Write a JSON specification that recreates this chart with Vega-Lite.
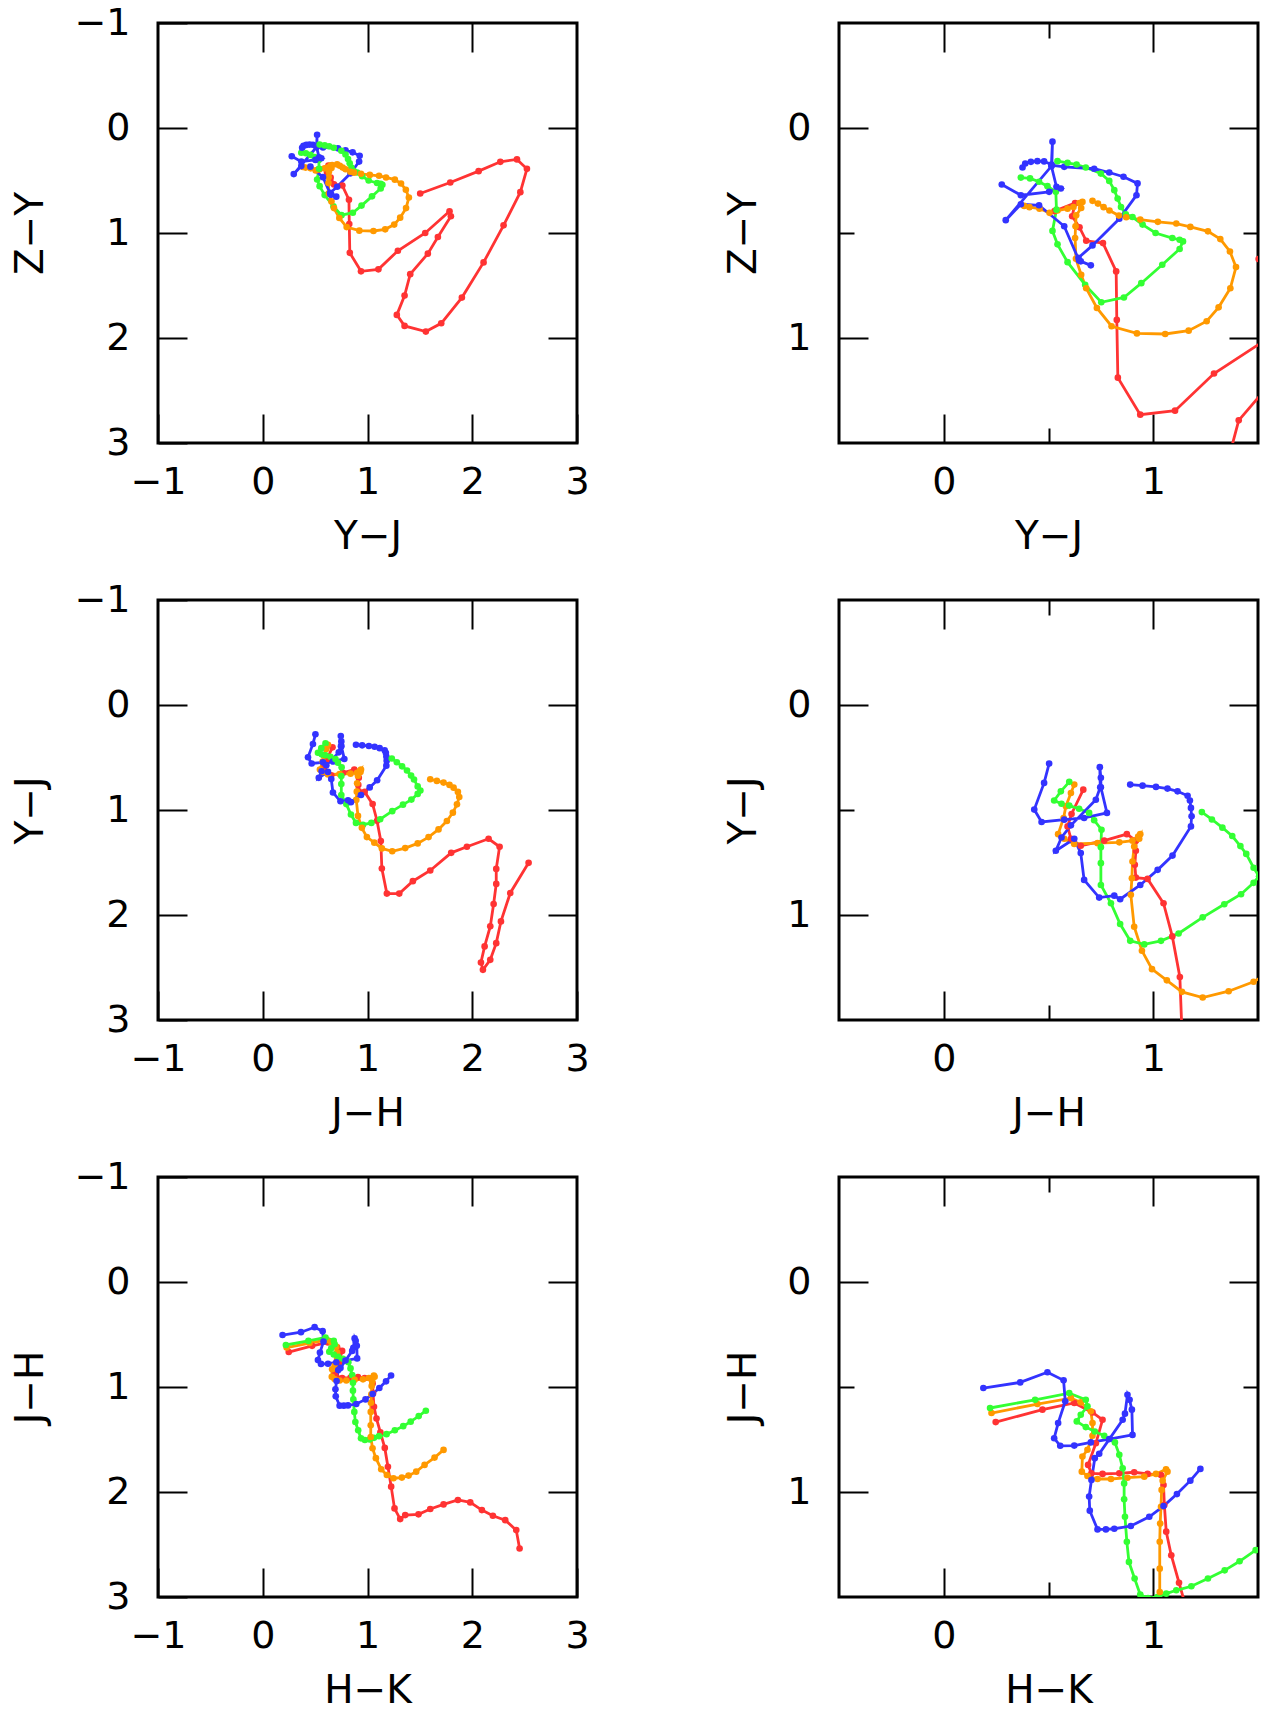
{
"$schema":"https://vega.github.io/schema/vega-lite/v6.json",
"padding":{"left":10,"top":2,"right":5,"bottom":0},
"datasets":{"d":[
{"r":1,"s":"r","i":1,"x":0.529,"y":0.396},{"r":1,"s":"r","i":2,"x":0.627,"y":0.357},{"r":1,"s":"r","i":3,"x":0.613,"y":0.420},{"r":1,"s":"r","i":4,"x":0.648,"y":0.473},{"r":1,"s":"r","i":5,"x":0.680,"y":0.537},{"r":1,"s":"r","i":6,"x":0.760,"y":0.548},{"r":1,"s":"r","i":7,"x":0.823,"y":0.683},{"r":1,"s":"r","i":8,"x":0.826,"y":0.914},{"r":1,"s":"r","i":9,"x":0.831,"y":1.189},{"r":1,"s":"r","i":10,"x":0.938,"y":1.365},{"r":1,"s":"r","i":11,"x":1.104,"y":1.346},{"r":1,"s":"r","i":12,"x":1.290,"y":1.169},{"r":1,"s":"r","i":13,"x":1.551,"y":1.000},{"r":1,"s":"r","i":14,"x":1.783,"y":0.793},{"r":1,"s":"r","i":15,"x":1.796,"y":0.841},{"r":1,"s":"r","i":16,"x":1.672,"y":1.038},{"r":1,"s":"r","i":17,"x":1.576,"y":1.197},{"r":1,"s":"r","i":18,"x":1.408,"y":1.392},{"r":1,"s":"r","i":19,"x":1.354,"y":1.596},{"r":1,"s":"r","i":20,"x":1.280,"y":1.780},{"r":1,"s":"r","i":21,"x":1.354,"y":1.885},{"r":1,"s":"r","i":22,"x":1.557,"y":1.939},{"r":1,"s":"r","i":23,"x":1.704,"y":1.860},{"r":1,"s":"r","i":24,"x":1.901,"y":1.615},{"r":1,"s":"r","i":25,"x":2.108,"y":1.280},{"r":1,"s":"r","i":26,"x":2.299,"y":0.927},{"r":1,"s":"r","i":27,"x":2.459,"y":0.611},{"r":1,"s":"r","i":28,"x":2.522,"y":0.389},{"r":1,"s":"r","i":29,"x":2.427,"y":0.299},{"r":1,"s":"r","i":30,"x":2.268,"y":0.322},{"r":1,"s":"r","i":31,"x":2.061,"y":0.411},{"r":1,"s":"r","i":32,"x":1.790,"y":0.519},{"r":1,"s":"r","i":33,"x":1.503,"y":0.624},
{"r":1,"s":"o","i":1,"x":0.384,"y":0.371},{"r":1,"s":"o","i":2,"x":0.409,"y":0.377},{"r":1,"s":"o","i":3,"x":0.457,"y":0.384},{"r":1,"s":"o","i":4,"x":0.505,"y":0.404},{"r":1,"s":"o","i":5,"x":0.543,"y":0.393},{"r":1,"s":"o","i":6,"x":0.591,"y":0.384},{"r":1,"s":"o","i":7,"x":0.619,"y":0.376},{"r":1,"s":"o","i":8,"x":0.648,"y":0.357},{"r":1,"s":"o","i":9,"x":0.662,"y":0.352},{"r":1,"s":"o","i":10,"x":0.656,"y":0.381},{"r":1,"s":"o","i":11,"x":0.632,"y":0.416},{"r":1,"s":"o","i":12,"x":0.629,"y":0.468},{"r":1,"s":"o","i":13,"x":0.627,"y":0.524},{"r":1,"s":"o","i":14,"x":0.631,"y":0.623},{"r":1,"s":"o","i":15,"x":0.656,"y":0.699},{"r":1,"s":"o","i":16,"x":0.680,"y":0.763},{"r":1,"s":"o","i":17,"x":0.731,"y":0.857},{"r":1,"s":"o","i":18,"x":0.801,"y":0.944},{"r":1,"s":"o","i":19,"x":0.922,"y":0.978},{"r":1,"s":"o","i":20,"x":1.057,"y":0.981},{"r":1,"s":"o","i":21,"x":1.169,"y":0.965},{"r":1,"s":"o","i":22,"x":1.255,"y":0.920},{"r":1,"s":"o","i":23,"x":1.312,"y":0.854},{"r":1,"s":"o","i":24,"x":1.368,"y":0.763},{"r":1,"s":"o","i":25,"x":1.395,"y":0.662},{"r":1,"s":"o","i":26,"x":1.366,"y":0.588},{"r":1,"s":"o","i":27,"x":1.320,"y":0.529},{"r":1,"s":"o","i":28,"x":1.261,"y":0.492},{"r":1,"s":"o","i":29,"x":1.177,"y":0.471},{"r":1,"s":"o","i":30,"x":1.110,"y":0.455},{"r":1,"s":"o","i":31,"x":1.022,"y":0.447},{"r":1,"s":"o","i":32,"x":0.938,"y":0.436},{"r":1,"s":"o","i":33,"x":0.871,"y":0.425},{"r":1,"s":"o","i":34,"x":0.836,"y":0.417},{"r":1,"s":"o","i":35,"x":0.791,"y":0.393},{"r":1,"s":"o","i":36,"x":0.763,"y":0.377},{"r":1,"s":"o","i":37,"x":0.736,"y":0.360},{"r":1,"s":"o","i":38,"x":0.710,"y":0.347},
{"r":1,"s":"g","i":1,"x":0.368,"y":0.236},{"r":1,"s":"g","i":2,"x":0.412,"y":0.240},{"r":1,"s":"g","i":3,"x":0.455,"y":0.256},{"r":1,"s":"g","i":4,"x":0.495,"y":0.277},{"r":1,"s":"g","i":5,"x":0.535,"y":0.304},{"r":1,"s":"g","i":6,"x":0.538,"y":0.389},{"r":1,"s":"g","i":7,"x":0.519,"y":0.490},{"r":1,"s":"g","i":8,"x":0.543,"y":0.554},{"r":1,"s":"g","i":9,"x":0.591,"y":0.639},{"r":1,"s":"g","i":10,"x":0.675,"y":0.747},{"r":1,"s":"g","i":11,"x":0.752,"y":0.830},{"r":1,"s":"g","i":12,"x":0.860,"y":0.807},{"r":1,"s":"g","i":13,"x":0.943,"y":0.739},{"r":1,"s":"g","i":14,"x":1.043,"y":0.651},{"r":1,"s":"g","i":15,"x":1.126,"y":0.576},{"r":1,"s":"g","i":16,"x":1.142,"y":0.540},{"r":1,"s":"g","i":17,"x":1.126,"y":0.532},{"r":1,"s":"g","i":18,"x":1.091,"y":0.524},{"r":1,"s":"g","i":19,"x":1.011,"y":0.500},{"r":1,"s":"g","i":20,"x":0.949,"y":0.460},{"r":1,"s":"g","i":21,"x":0.901,"y":0.424},{"r":1,"s":"g","i":22,"x":0.869,"y":0.411},{"r":1,"s":"g","i":23,"x":0.846,"y":0.376},{"r":1,"s":"g","i":24,"x":0.830,"y":0.336},{"r":1,"s":"g","i":25,"x":0.814,"y":0.296},{"r":1,"s":"g","i":26,"x":0.790,"y":0.252},{"r":1,"s":"g","i":27,"x":0.750,"y":0.217},{"r":1,"s":"g","i":28,"x":0.678,"y":0.188},{"r":1,"s":"g","i":29,"x":0.634,"y":0.174},{"r":1,"s":"g","i":30,"x":0.591,"y":0.166},{"r":1,"s":"g","i":31,"x":0.543,"y":0.158},
{"r":1,"s":"b","i":1,"x":0.376,"y":0.188},{"r":1,"s":"b","i":2,"x":0.389,"y":0.169},{"r":1,"s":"b","i":3,"x":0.416,"y":0.161},{"r":1,"s":"b","i":4,"x":0.447,"y":0.158},{"r":1,"s":"b","i":5,"x":0.479,"y":0.159},{"r":1,"s":"b","i":6,"x":0.514,"y":0.174},{"r":1,"s":"b","i":7,"x":0.519,"y":0.065},{"r":1,"s":"b","i":8,"x":0.516,"y":0.177},{"r":1,"s":"b","i":9,"x":0.575,"y":0.185},{"r":1,"s":"b","i":10,"x":0.718,"y":0.194},{"r":1,"s":"b","i":11,"x":0.790,"y":0.212},{"r":1,"s":"b","i":12,"x":0.858,"y":0.232},{"r":1,"s":"b","i":13,"x":0.925,"y":0.264},{"r":1,"s":"b","i":14,"x":0.920,"y":0.320},{"r":1,"s":"b","i":15,"x":0.838,"y":0.432},{"r":1,"s":"b","i":16,"x":0.710,"y":0.559},{"r":1,"s":"b","i":17,"x":0.643,"y":0.618},{"r":1,"s":"b","i":18,"x":0.654,"y":0.635},{"r":1,"s":"b","i":19,"x":0.702,"y":0.654},{"r":1,"s":"b","i":20,"x":0.646,"y":0.631},{"r":1,"s":"b","i":21,"x":0.575,"y":0.468},{"r":1,"s":"b","i":22,"x":0.455,"y":0.368},{"r":1,"s":"b","i":23,"x":0.368,"y":0.363},{"r":1,"s":"b","i":24,"x":0.296,"y":0.439},{"r":1,"s":"b","i":25,"x":0.514,"y":0.182},{"r":1,"s":"b","i":26,"x":0.538,"y":0.280},{"r":1,"s":"b","i":27,"x":0.559,"y":0.288},{"r":1,"s":"b","i":28,"x":0.503,"y":0.304},{"r":1,"s":"b","i":29,"x":0.368,"y":0.320},{"r":1,"s":"b","i":30,"x":0.277,"y":0.269},
{"r":2,"s":"r","i":1,"x":0.666,"y":0.403},{"r":2,"s":"r","i":2,"x":0.610,"y":0.519},{"r":2,"s":"r","i":3,"x":0.591,"y":0.578},{"r":2,"s":"r","i":4,"x":0.607,"y":0.637},{"r":2,"s":"r","i":5,"x":0.654,"y":0.670},{"r":2,"s":"r","i":6,"x":0.766,"y":0.646},{"r":2,"s":"r","i":7,"x":0.874,"y":0.615},{"r":2,"s":"r","i":8,"x":0.917,"y":0.646},{"r":2,"s":"r","i":9,"x":0.917,"y":0.694},{"r":2,"s":"r","i":10,"x":0.912,"y":0.761},{"r":2,"s":"r","i":11,"x":0.917,"y":0.822},{"r":2,"s":"r","i":12,"x":0.973,"y":0.828},{"r":2,"s":"r","i":13,"x":1.049,"y":0.944},{"r":2,"s":"r","i":14,"x":1.091,"y":1.102},{"r":2,"s":"r","i":15,"x":1.127,"y":1.295},{"r":2,"s":"r","i":16,"x":1.137,"y":1.557},{"r":2,"s":"r","i":17,"x":1.185,"y":1.796},{"r":2,"s":"r","i":18,"x":1.303,"y":1.796},{"r":2,"s":"r","i":19,"x":1.433,"y":1.678},{"r":2,"s":"r","i":20,"x":1.599,"y":1.576},{"r":2,"s":"r","i":21,"x":1.799,"y":1.408},{"r":2,"s":"r","i":22,"x":1.949,"y":1.350},{"r":2,"s":"r","i":23,"x":2.156,"y":1.274},{"r":2,"s":"r","i":24,"x":2.261,"y":1.350},{"r":2,"s":"r","i":25,"x":2.229,"y":1.561},{"r":2,"s":"r","i":26,"x":2.229,"y":1.704},{"r":2,"s":"r","i":27,"x":2.204,"y":1.895},{"r":2,"s":"r","i":28,"x":2.172,"y":2.108},{"r":2,"s":"r","i":29,"x":2.118,"y":2.299},{"r":2,"s":"r","i":30,"x":2.083,"y":2.452},{"r":2,"s":"r","i":31,"x":2.102,"y":2.522},{"r":2,"s":"r","i":32,"x":2.172,"y":2.427},{"r":2,"s":"r","i":33,"x":2.229,"y":2.268},{"r":2,"s":"r","i":34,"x":2.274,"y":2.061},{"r":2,"s":"r","i":35,"x":2.363,"y":1.790},{"r":2,"s":"r","i":36,"x":2.538,"y":1.503},
{"r":2,"s":"o","i":1,"x":0.623,"y":0.379},{"r":2,"s":"o","i":2,"x":0.607,"y":0.419},{"r":2,"s":"o","i":3,"x":0.583,"y":0.482},{"r":2,"s":"o","i":4,"x":0.572,"y":0.538},{"r":2,"s":"o","i":5,"x":0.546,"y":0.615},{"r":2,"s":"o","i":6,"x":0.575,"y":0.637},{"r":2,"s":"o","i":7,"x":0.623,"y":0.662},{"r":2,"s":"o","i":8,"x":0.734,"y":0.658},{"r":2,"s":"o","i":9,"x":0.838,"y":0.654},{"r":2,"s":"o","i":10,"x":0.901,"y":0.646},{"r":2,"s":"o","i":11,"x":0.928,"y":0.626},{"r":2,"s":"o","i":12,"x":0.938,"y":0.615},{"r":2,"s":"o","i":13,"x":0.933,"y":0.637},{"r":2,"s":"o","i":14,"x":0.909,"y":0.674},{"r":2,"s":"o","i":15,"x":0.901,"y":0.745},{"r":2,"s":"o","i":16,"x":0.898,"y":0.825},{"r":2,"s":"o","i":17,"x":0.893,"y":0.904},{"r":2,"s":"o","i":18,"x":0.909,"y":1.056},{"r":2,"s":"o","i":19,"x":0.946,"y":1.170},{"r":2,"s":"o","i":20,"x":0.994,"y":1.258},{"r":2,"s":"o","i":21,"x":1.065,"y":1.311},{"r":2,"s":"o","i":22,"x":1.137,"y":1.366},{"r":2,"s":"o","i":23,"x":1.236,"y":1.393},{"r":2,"s":"o","i":24,"x":1.360,"y":1.363},{"r":2,"s":"o","i":25,"x":1.479,"y":1.318},{"r":2,"s":"o","i":26,"x":1.583,"y":1.258},{"r":2,"s":"o","i":27,"x":1.678,"y":1.185},{"r":2,"s":"o","i":28,"x":1.758,"y":1.105},{"r":2,"s":"o","i":29,"x":1.815,"y":1.025},{"r":2,"s":"o","i":30,"x":1.854,"y":0.946},{"r":2,"s":"o","i":31,"x":1.876,"y":0.876},{"r":2,"s":"o","i":32,"x":1.863,"y":0.828},{"r":2,"s":"o","i":33,"x":1.822,"y":0.787},{"r":2,"s":"o","i":34,"x":1.783,"y":0.761},{"r":2,"s":"o","i":35,"x":1.726,"y":0.739},{"r":2,"s":"o","i":36,"x":1.662,"y":0.723},{"r":2,"s":"o","i":37,"x":1.599,"y":0.707},
{"r":2,"s":"g","i":1,"x":0.599,"y":0.366},{"r":2,"s":"g","i":2,"x":0.559,"y":0.411},{"r":2,"s":"g","i":3,"x":0.527,"y":0.455},{"r":2,"s":"g","i":4,"x":0.562,"y":0.470},{"r":2,"s":"g","i":5,"x":0.599,"y":0.479},{"r":2,"s":"g","i":6,"x":0.646,"y":0.494},{"r":2,"s":"g","i":7,"x":0.694,"y":0.514},{"r":2,"s":"g","i":8,"x":0.718,"y":0.549},{"r":2,"s":"g","i":9,"x":0.753,"y":0.594},{"r":2,"s":"g","i":10,"x":0.750,"y":0.677},{"r":2,"s":"g","i":11,"x":0.750,"y":0.753},{"r":2,"s":"g","i":12,"x":0.750,"y":0.857},{"r":2,"s":"g","i":13,"x":0.798,"y":0.944},{"r":2,"s":"g","i":14,"x":0.842,"y":1.043},{"r":2,"s":"g","i":15,"x":0.890,"y":1.123},{"r":2,"s":"g","i":16,"x":0.957,"y":1.140},{"r":2,"s":"g","i":17,"x":1.037,"y":1.123},{"r":2,"s":"g","i":18,"x":1.121,"y":1.088},{"r":2,"s":"g","i":19,"x":1.236,"y":1.011},{"r":2,"s":"g","i":20,"x":1.339,"y":0.949},{"r":2,"s":"g","i":21,"x":1.419,"y":0.901},{"r":2,"s":"g","i":22,"x":1.479,"y":0.847},{"r":2,"s":"g","i":23,"x":1.505,"y":0.815},{"r":2,"s":"g","i":24,"x":1.479,"y":0.775},{"r":2,"s":"g","i":25,"x":1.444,"y":0.709},{"r":2,"s":"g","i":26,"x":1.416,"y":0.672},{"r":2,"s":"g","i":27,"x":1.377,"y":0.624},{"r":2,"s":"g","i":28,"x":1.330,"y":0.584},{"r":2,"s":"g","i":29,"x":1.280,"y":0.545},{"r":2,"s":"g","i":30,"x":1.232,"y":0.510},
{"r":2,"s":"b","i":1,"x":0.503,"y":0.279},{"r":2,"s":"b","i":2,"x":0.479,"y":0.371},{"r":2,"s":"b","i":3,"x":0.432,"y":0.498},{"r":2,"s":"b","i":4,"x":0.467,"y":0.557},{"r":2,"s":"b","i":5,"x":0.575,"y":0.546},{"r":2,"s":"b","i":6,"x":0.670,"y":0.538},{"r":2,"s":"b","i":7,"x":0.779,"y":0.514},{"r":2,"s":"b","i":8,"x":0.750,"y":0.392},{"r":2,"s":"b","i":9,"x":0.750,"y":0.347},{"r":2,"s":"b","i":10,"x":0.745,"y":0.296},{"r":2,"s":"b","i":11,"x":0.747,"y":0.392},{"r":2,"s":"b","i":12,"x":0.726,"y":0.451},{"r":2,"s":"b","i":13,"x":0.607,"y":0.573},{"r":2,"s":"b","i":14,"x":0.562,"y":0.631},{"r":2,"s":"b","i":15,"x":0.535,"y":0.694},{"r":2,"s":"b","i":16,"x":0.623,"y":0.637},{"r":2,"s":"b","i":17,"x":0.654,"y":0.705},{"r":2,"s":"b","i":18,"x":0.670,"y":0.833},{"r":2,"s":"b","i":19,"x":0.742,"y":0.917},{"r":2,"s":"b","i":20,"x":0.814,"y":0.908},{"r":2,"s":"b","i":21,"x":0.842,"y":0.925},{"r":2,"s":"b","i":22,"x":0.938,"y":0.857},{"r":2,"s":"b","i":23,"x":1.021,"y":0.785},{"r":2,"s":"b","i":24,"x":1.092,"y":0.717},{"r":2,"s":"b","i":25,"x":1.180,"y":0.578},{"r":2,"s":"b","i":26,"x":1.183,"y":0.530},{"r":2,"s":"b","i":27,"x":1.180,"y":0.490},{"r":2,"s":"b","i":28,"x":1.175,"y":0.455},{"r":2,"s":"b","i":29,"x":1.164,"y":0.432},{"r":2,"s":"b","i":30,"x":1.116,"y":0.411},{"r":2,"s":"b","i":31,"x":1.068,"y":0.398},{"r":2,"s":"b","i":32,"x":1.013,"y":0.390},{"r":2,"s":"b","i":33,"x":0.949,"y":0.384},{"r":2,"s":"b","i":34,"x":0.890,"y":0.379},
{"r":3,"s":"r","i":1,"x":0.248,"y":0.667},{"r":3,"s":"r","i":2,"x":0.471,"y":0.608},{"r":3,"s":"r","i":3,"x":0.623,"y":0.576},{"r":3,"s":"r","i":4,"x":0.710,"y":0.621},{"r":3,"s":"r","i":5,"x":0.758,"y":0.656},{"r":3,"s":"r","i":6,"x":0.726,"y":0.768},{"r":3,"s":"r","i":7,"x":0.689,"y":0.871},{"r":3,"s":"r","i":8,"x":0.705,"y":0.911},{"r":3,"s":"r","i":9,"x":0.758,"y":0.914},{"r":3,"s":"r","i":10,"x":0.838,"y":0.911},{"r":3,"s":"r","i":11,"x":0.909,"y":0.906},{"r":3,"s":"r","i":12,"x":0.973,"y":0.914},{"r":3,"s":"r","i":13,"x":1.037,"y":0.919},{"r":3,"s":"r","i":14,"x":1.049,"y":0.967},{"r":3,"s":"r","i":15,"x":1.053,"y":1.062},{"r":3,"s":"r","i":16,"x":1.062,"y":1.189},{"r":3,"s":"r","i":17,"x":1.086,"y":1.301},{"r":3,"s":"r","i":18,"x":1.123,"y":1.432},{"r":3,"s":"r","i":19,"x":1.165,"y":1.580},{"r":3,"s":"r","i":20,"x":1.195,"y":1.760},{"r":3,"s":"r","i":21,"x":1.226,"y":1.949},{"r":3,"s":"r","i":22,"x":1.258,"y":2.156},{"r":3,"s":"r","i":23,"x":1.312,"y":2.258},{"r":3,"s":"r","i":24,"x":1.360,"y":2.220},{"r":3,"s":"r","i":25,"x":1.487,"y":2.213},{"r":3,"s":"r","i":26,"x":1.599,"y":2.162},{"r":3,"s":"r","i":27,"x":1.726,"y":2.118},{"r":3,"s":"r","i":28,"x":1.863,"y":2.076},{"r":3,"s":"r","i":29,"x":1.981,"y":2.099},{"r":3,"s":"r","i":30,"x":2.092,"y":2.172},{"r":3,"s":"r","i":31,"x":2.197,"y":2.226},{"r":3,"s":"r","i":32,"x":2.315,"y":2.268},{"r":3,"s":"r","i":33,"x":2.420,"y":2.363},{"r":3,"s":"r","i":34,"x":2.452,"y":2.538},
{"r":3,"s":"o","i":1,"x":0.228,"y":0.624},{"r":3,"s":"o","i":2,"x":0.447,"y":0.581},{"r":3,"s":"o","i":3,"x":0.607,"y":0.553},{"r":3,"s":"o","i":4,"x":0.654,"y":0.573},{"r":3,"s":"o","i":5,"x":0.702,"y":0.616},{"r":3,"s":"o","i":6,"x":0.710,"y":0.672},{"r":3,"s":"o","i":7,"x":0.710,"y":0.732},{"r":3,"s":"o","i":8,"x":0.686,"y":0.799},{"r":3,"s":"o","i":9,"x":0.662,"y":0.831},{"r":3,"s":"o","i":10,"x":0.659,"y":0.903},{"r":3,"s":"o","i":11,"x":0.686,"y":0.924},{"r":3,"s":"o","i":12,"x":0.734,"y":0.938},{"r":3,"s":"o","i":13,"x":0.798,"y":0.938},{"r":3,"s":"o","i":14,"x":0.877,"y":0.932},{"r":3,"s":"o","i":15,"x":0.957,"y":0.927},{"r":3,"s":"o","i":16,"x":1.013,"y":0.914},{"r":3,"s":"o","i":17,"x":1.061,"y":0.892},{"r":3,"s":"o","i":18,"x":1.068,"y":0.903},{"r":3,"s":"o","i":19,"x":1.045,"y":0.946},{"r":3,"s":"o","i":20,"x":1.040,"y":0.990},{"r":3,"s":"o","i":21,"x":1.037,"y":1.070},{"r":3,"s":"o","i":22,"x":1.033,"y":1.150},{"r":3,"s":"o","i":23,"x":1.031,"y":1.237},{"r":3,"s":"o","i":24,"x":1.031,"y":1.365},{"r":3,"s":"o","i":25,"x":1.031,"y":1.476},{"r":3,"s":"o","i":26,"x":1.048,"y":1.583},{"r":3,"s":"o","i":27,"x":1.080,"y":1.678},{"r":3,"s":"o","i":28,"x":1.131,"y":1.783},{"r":3,"s":"o","i":29,"x":1.185,"y":1.838},{"r":3,"s":"o","i":30,"x":1.248,"y":1.869},{"r":3,"s":"o","i":31,"x":1.328,"y":1.863},{"r":3,"s":"o","i":32,"x":1.392,"y":1.844},{"r":3,"s":"o","i":33,"x":1.465,"y":1.806},{"r":3,"s":"o","i":34,"x":1.545,"y":1.742},{"r":3,"s":"o","i":35,"x":1.640,"y":1.672},{"r":3,"s":"o","i":36,"x":1.726,"y":1.599},
{"r":3,"s":"g","i":1,"x":0.221,"y":0.600},{"r":3,"s":"g","i":2,"x":0.436,"y":0.561},{"r":3,"s":"g","i":3,"x":0.599,"y":0.529},{"r":3,"s":"g","i":4,"x":0.678,"y":0.561},{"r":3,"s":"g","i":5,"x":0.686,"y":0.592},{"r":3,"s":"g","i":6,"x":0.654,"y":0.632},{"r":3,"s":"g","i":7,"x":0.635,"y":0.664},{"r":3,"s":"g","i":8,"x":0.678,"y":0.691},{"r":3,"s":"g","i":9,"x":0.721,"y":0.712},{"r":3,"s":"g","i":10,"x":0.766,"y":0.732},{"r":3,"s":"g","i":11,"x":0.817,"y":0.764},{"r":3,"s":"g","i":12,"x":0.838,"y":0.823},{"r":3,"s":"g","i":13,"x":0.854,"y":0.887},{"r":3,"s":"g","i":14,"x":0.861,"y":0.959},{"r":3,"s":"g","i":15,"x":0.861,"y":1.035},{"r":3,"s":"g","i":16,"x":0.865,"y":1.118},{"r":3,"s":"g","i":17,"x":0.874,"y":1.237},{"r":3,"s":"g","i":18,"x":0.884,"y":1.333},{"r":3,"s":"g","i":19,"x":0.911,"y":1.412},{"r":3,"s":"g","i":20,"x":0.938,"y":1.489},{"r":3,"s":"g","i":21,"x":0.975,"y":1.505},{"r":3,"s":"g","i":22,"x":1.020,"y":1.500},{"r":3,"s":"g","i":23,"x":1.062,"y":1.484},{"r":3,"s":"g","i":24,"x":1.110,"y":1.468},{"r":3,"s":"g","i":25,"x":1.182,"y":1.449},{"r":3,"s":"g","i":26,"x":1.261,"y":1.412},{"r":3,"s":"g","i":27,"x":1.341,"y":1.373},{"r":3,"s":"g","i":28,"x":1.412,"y":1.330},{"r":3,"s":"g","i":29,"x":1.489,"y":1.277},{"r":3,"s":"g","i":30,"x":1.557,"y":1.226},
{"r":3,"s":"b","i":1,"x":0.189,"y":0.505},{"r":3,"s":"b","i":2,"x":0.365,"y":0.478},{"r":3,"s":"b","i":3,"x":0.495,"y":0.430},{"r":3,"s":"b","i":4,"x":0.572,"y":0.468},{"r":3,"s":"b","i":5,"x":0.580,"y":0.568},{"r":3,"s":"b","i":6,"x":0.546,"y":0.672},{"r":3,"s":"b","i":7,"x":0.527,"y":0.744},{"r":3,"s":"b","i":8,"x":0.556,"y":0.780},{"r":3,"s":"b","i":9,"x":0.623,"y":0.779},{"r":3,"s":"b","i":10,"x":0.702,"y":0.764},{"r":3,"s":"b","i":11,"x":0.790,"y":0.748},{"r":3,"s":"b","i":12,"x":0.901,"y":0.728},{"r":3,"s":"b","i":13,"x":0.898,"y":0.608},{"r":3,"s":"b","i":14,"x":0.887,"y":0.561},{"r":3,"s":"b","i":15,"x":0.877,"y":0.537},{"r":3,"s":"b","i":16,"x":0.865,"y":0.627},{"r":3,"s":"b","i":17,"x":0.854,"y":0.656},{"r":3,"s":"b","i":18,"x":0.742,"y":0.818},{"r":3,"s":"b","i":19,"x":0.721,"y":0.839},{"r":3,"s":"b","i":20,"x":0.705,"y":0.943},{"r":3,"s":"b","i":21,"x":0.694,"y":1.022},{"r":3,"s":"b","i":22,"x":0.697,"y":1.089},{"r":3,"s":"b","i":23,"x":0.734,"y":1.178},{"r":3,"s":"b","i":24,"x":0.774,"y":1.178},{"r":3,"s":"b","i":25,"x":0.814,"y":1.175},{"r":3,"s":"b","i":26,"x":0.893,"y":1.162},{"r":3,"s":"b","i":27,"x":0.981,"y":1.118},{"r":3,"s":"b","i":28,"x":1.049,"y":1.067},{"r":3,"s":"b","i":29,"x":1.113,"y":1.010},{"r":3,"s":"b","i":30,"x":1.177,"y":0.946},{"r":3,"s":"b","i":31,"x":1.225,"y":0.890}
]},
"data":{"name":"d"},
"columns":2,
"spacing":{"row":157,"column":262},
"bounds":"flush",
"concat":[
{"width":419,"height":420,"transform":[{"filter":"datum.r==1"}],
 "layer":[
  {"mark":{"type":"line","clip":true,"strokeWidth":2.8,"point":{"filled":true,"size":44,"clip":true}},
   "encoding":{
    "x":{"field":"x","type":"quantitative","scale":{"domain":[-1,3],"nice":false,"zero":false},"axis":{"orient":"bottom","values":[-1,0,1,2,3],"title":"Y−J","labelExpr":"datum.value < 0 ? '−' + (-datum.value) : '' + datum.value"}},
    "y":{"field":"y","type":"quantitative","scale":{"domain":[-1,3],"nice":false,"zero":false,"reverse":true},"axis":{"orient":"left","values":[-1,0,1,2,3],"title":"Z−Y","labelExpr":"datum.value < 0 ? '−' + (-datum.value) : '' + datum.value"}},
    "color":{"field":"s","type":"nominal","scale":{"domain":["r","o","g","b"],"range":["#ff3333","#ff9900","#33ff33","#3333ff"]},"legend":null},
    "order":{"field":"i","type":"quantitative"}}},
  {"mark":{"type":"point","opacity":0},
   "encoding":{
    "x":{"field":"x","type":"quantitative","scale":{"domain":[-1,3],"nice":false,"zero":false},"axis":{"orient":"top","values":[0,1,2],"labels":false,"title":null}},
    "y":{"field":"y","type":"quantitative","scale":{"domain":[-1,3],"nice":false,"zero":false,"reverse":true},"axis":{"orient":"right","values":[0,1,2],"labels":false,"title":null}}}}
 ],
 "resolve":{"axis":{"x":"independent","y":"independent"}}},
{"width":419,"height":420,"transform":[{"filter":"datum.r==1"}],
 "layer":[
  {"mark":{"type":"line","clip":true,"strokeWidth":2.8,"point":{"filled":true,"size":44,"clip":true}},
   "encoding":{
    "x":{"field":"x","type":"quantitative","scale":{"domain":[-0.5,1.5],"nice":false,"zero":false},"axis":{"orient":"bottom","values":[0,0.5,1],"title":"Y−J","tickSize":{"condition":{"test":"datum.value == 0.5","value":-15},"value":-29},"labelFontSize":{"condition":{"test":"datum.value == 0.5","value":0},"value":38},"labelExpr":"datum.value == 0.5 ? '' : '' + datum.value"}},
    "y":{"field":"y","type":"quantitative","scale":{"domain":[-0.5,1.5],"nice":false,"zero":false,"reverse":true},"axis":{"orient":"left","values":[0,0.5,1],"title":"Z−Y","tickSize":{"condition":{"test":"datum.value == 0.5","value":-15},"value":-29},"labelFontSize":{"condition":{"test":"datum.value == 0.5","value":0},"value":38},"labelExpr":"datum.value == 0.5 ? '' : '' + datum.value"}},
    "color":{"field":"s","type":"nominal","scale":{"domain":["r","o","g","b"],"range":["#ff3333","#ff9900","#33ff33","#3333ff"]},"legend":null},
    "order":{"field":"i","type":"quantitative"}}},
  {"mark":{"type":"point","opacity":0},
   "encoding":{
    "x":{"field":"x","type":"quantitative","scale":{"domain":[-0.5,1.5],"nice":false,"zero":false},"axis":{"orient":"top","values":[0,0.5,1],"labels":false,"title":null,"tickSize":{"condition":{"test":"datum.value == 0.5","value":-15},"value":-29}}},
    "y":{"field":"y","type":"quantitative","scale":{"domain":[-0.5,1.5],"nice":false,"zero":false,"reverse":true},"axis":{"orient":"right","values":[0,0.5,1],"labels":false,"title":null,"tickSize":{"condition":{"test":"datum.value == 0.5","value":-15},"value":-29}}}}}
 ],
 "resolve":{"axis":{"x":"independent","y":"independent"}}},
{"width":419,"height":420,"transform":[{"filter":"datum.r==2"}],
 "layer":[
  {"mark":{"type":"line","clip":true,"strokeWidth":2.8,"point":{"filled":true,"size":44,"clip":true}},
   "encoding":{
    "x":{"field":"x","type":"quantitative","scale":{"domain":[-1,3],"nice":false,"zero":false},"axis":{"orient":"bottom","values":[-1,0,1,2,3],"title":"J−H","labelExpr":"datum.value < 0 ? '−' + (-datum.value) : '' + datum.value"}},
    "y":{"field":"y","type":"quantitative","scale":{"domain":[-1,3],"nice":false,"zero":false,"reverse":true},"axis":{"orient":"left","values":[-1,0,1,2,3],"title":"Y−J","labelExpr":"datum.value < 0 ? '−' + (-datum.value) : '' + datum.value"}},
    "color":{"field":"s","type":"nominal","scale":{"domain":["r","o","g","b"],"range":["#ff3333","#ff9900","#33ff33","#3333ff"]},"legend":null},
    "order":{"field":"i","type":"quantitative"}}},
  {"mark":{"type":"point","opacity":0},
   "encoding":{
    "x":{"field":"x","type":"quantitative","scale":{"domain":[-1,3],"nice":false,"zero":false},"axis":{"orient":"top","values":[0,1,2],"labels":false,"title":null}},
    "y":{"field":"y","type":"quantitative","scale":{"domain":[-1,3],"nice":false,"zero":false,"reverse":true},"axis":{"orient":"right","values":[0,1,2],"labels":false,"title":null}}}}
 ],
 "resolve":{"axis":{"x":"independent","y":"independent"}}},
{"width":419,"height":420,"transform":[{"filter":"datum.r==2"}],
 "layer":[
  {"mark":{"type":"line","clip":true,"strokeWidth":2.8,"point":{"filled":true,"size":44,"clip":true}},
   "encoding":{
    "x":{"field":"x","type":"quantitative","scale":{"domain":[-0.5,1.5],"nice":false,"zero":false},"axis":{"orient":"bottom","values":[0,0.5,1],"title":"J−H","tickSize":{"condition":{"test":"datum.value == 0.5","value":-15},"value":-29},"labelFontSize":{"condition":{"test":"datum.value == 0.5","value":0},"value":38},"labelExpr":"datum.value == 0.5 ? '' : '' + datum.value"}},
    "y":{"field":"y","type":"quantitative","scale":{"domain":[-0.5,1.5],"nice":false,"zero":false,"reverse":true},"axis":{"orient":"left","values":[0,0.5,1],"title":"Y−J","tickSize":{"condition":{"test":"datum.value == 0.5","value":-15},"value":-29},"labelFontSize":{"condition":{"test":"datum.value == 0.5","value":0},"value":38},"labelExpr":"datum.value == 0.5 ? '' : '' + datum.value"}},
    "color":{"field":"s","type":"nominal","scale":{"domain":["r","o","g","b"],"range":["#ff3333","#ff9900","#33ff33","#3333ff"]},"legend":null},
    "order":{"field":"i","type":"quantitative"}}},
  {"mark":{"type":"point","opacity":0},
   "encoding":{
    "x":{"field":"x","type":"quantitative","scale":{"domain":[-0.5,1.5],"nice":false,"zero":false},"axis":{"orient":"top","values":[0,0.5,1],"labels":false,"title":null,"tickSize":{"condition":{"test":"datum.value == 0.5","value":-15},"value":-29}}},
    "y":{"field":"y","type":"quantitative","scale":{"domain":[-0.5,1.5],"nice":false,"zero":false,"reverse":true},"axis":{"orient":"right","values":[0,0.5,1],"labels":false,"title":null,"tickSize":{"condition":{"test":"datum.value == 0.5","value":-15},"value":-29}}}}}
 ],
 "resolve":{"axis":{"x":"independent","y":"independent"}}},
{"width":419,"height":420,"transform":[{"filter":"datum.r==3"}],
 "layer":[
  {"mark":{"type":"line","clip":true,"strokeWidth":2.8,"point":{"filled":true,"size":44,"clip":true}},
   "encoding":{
    "x":{"field":"x","type":"quantitative","scale":{"domain":[-1,3],"nice":false,"zero":false},"axis":{"orient":"bottom","values":[-1,0,1,2,3],"title":"H−K","labelExpr":"datum.value < 0 ? '−' + (-datum.value) : '' + datum.value"}},
    "y":{"field":"y","type":"quantitative","scale":{"domain":[-1,3],"nice":false,"zero":false,"reverse":true},"axis":{"orient":"left","values":[-1,0,1,2,3],"title":"J−H","labelExpr":"datum.value < 0 ? '−' + (-datum.value) : '' + datum.value"}},
    "color":{"field":"s","type":"nominal","scale":{"domain":["r","o","g","b"],"range":["#ff3333","#ff9900","#33ff33","#3333ff"]},"legend":null},
    "order":{"field":"i","type":"quantitative"}}},
  {"mark":{"type":"point","opacity":0},
   "encoding":{
    "x":{"field":"x","type":"quantitative","scale":{"domain":[-1,3],"nice":false,"zero":false},"axis":{"orient":"top","values":[0,1,2],"labels":false,"title":null}},
    "y":{"field":"y","type":"quantitative","scale":{"domain":[-1,3],"nice":false,"zero":false,"reverse":true},"axis":{"orient":"right","values":[0,1,2],"labels":false,"title":null}}}}
 ],
 "resolve":{"axis":{"x":"independent","y":"independent"}}},
{"width":419,"height":420,"transform":[{"filter":"datum.r==3"}],
 "layer":[
  {"mark":{"type":"line","clip":true,"strokeWidth":2.8,"point":{"filled":true,"size":44,"clip":true}},
   "encoding":{
    "x":{"field":"x","type":"quantitative","scale":{"domain":[-0.5,1.5],"nice":false,"zero":false},"axis":{"orient":"bottom","values":[0,0.5,1],"title":"H−K","tickSize":{"condition":{"test":"datum.value == 0.5","value":-15},"value":-29},"labelFontSize":{"condition":{"test":"datum.value == 0.5","value":0},"value":38},"labelExpr":"datum.value == 0.5 ? '' : '' + datum.value"}},
    "y":{"field":"y","type":"quantitative","scale":{"domain":[-0.5,1.5],"nice":false,"zero":false,"reverse":true},"axis":{"orient":"left","values":[0,0.5,1],"title":"J−H","tickSize":{"condition":{"test":"datum.value == 0.5","value":-15},"value":-29},"labelFontSize":{"condition":{"test":"datum.value == 0.5","value":0},"value":38},"labelExpr":"datum.value == 0.5 ? '' : '' + datum.value"}},
    "color":{"field":"s","type":"nominal","scale":{"domain":["r","o","g","b"],"range":["#ff3333","#ff9900","#33ff33","#3333ff"]},"legend":null},
    "order":{"field":"i","type":"quantitative"}}},
  {"mark":{"type":"point","opacity":0},
   "encoding":{
    "x":{"field":"x","type":"quantitative","scale":{"domain":[-0.5,1.5],"nice":false,"zero":false},"axis":{"orient":"top","values":[0,0.5,1],"labels":false,"title":null,"tickSize":{"condition":{"test":"datum.value == 0.5","value":-15},"value":-29}}},
    "y":{"field":"y","type":"quantitative","scale":{"domain":[-0.5,1.5],"nice":false,"zero":false,"reverse":true},"axis":{"orient":"right","values":[0,0.5,1],"labels":false,"title":null,"tickSize":{"condition":{"test":"datum.value == 0.5","value":-15},"value":-29}}}}}
 ],
 "resolve":{"axis":{"x":"independent","y":"independent"}}}
],
"config":{
 "view":{"stroke":"#000","strokeWidth":3},
 "axis":{"domain":false,"grid":false,"tickColor":"#000","tickWidth":2,"tickSize":-29,"labelFont":"DejaVu Sans","labelFontSize":38,"labelColor":"#000","labelFlush":false,"labelOverlap":false,"titleFont":"DejaVu Sans","titleFontSize":39,"titleFontWeight":"normal","titleColor":"#000","labelPadding":57,"titlePadding":23},
 "axisBottom":{"labelPadding":49,"titlePadding":16}
}
}
